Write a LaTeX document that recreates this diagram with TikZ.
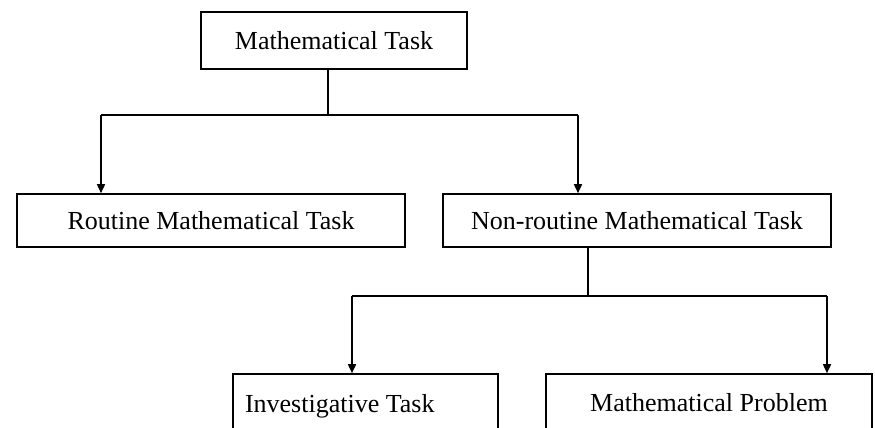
\documentclass[tikz,border=0pt]{standalone}
\usepackage{fontspec}
\setmainfont{Liberation Serif}
\usetikzlibrary{arrows.meta,calc,positioning}
\tikzset{
  task box/.style={draw,line width=1.6pt,inner sep=0pt,font=\fontsize{26}{30}\selectfont},
  tree line/.style={line width=1.6pt},
  tree arrow/.style={tree line,-{Triangle[length=9pt,width=8pt]}},
}

\begin{document}
\begin{tikzpicture}[x=1pt,y=-1pt]
  \useasboundingbox (0,0) rectangle (875,428);
  \node[task box,minimum width=266pt,minimum height=57pt] (task) at (334,40.5) {Mathematical Task};
  \node[task box,minimum width=388pt,minimum height=53pt] (routine) at (211,220.5) {Routine Mathematical Task};
  \node[task box,minimum width=388pt,minimum height=53pt] (nonroutine) at (637,220.5) {Non-routine Mathematical Task};
  \node[task box,minimum width=265pt,minimum height=58pt,text depth=0pt] (invest) at (365.5,403) {\makebox[241pt][l]{Investigative Task}};
  \node[task box,minimum width=326pt,minimum height=58pt] (problem) at (709,403) {Mathematical Problem};
  % first split
  \coordinate (j1) at (328,115);
  \coordinate (l1) at (101,115);
  \coordinate (r1) at (578,115);
  \draw[tree line] (task.south -| j1) -- (j1);
  \draw[tree line] (l1) -- (r1);
  \draw[tree arrow] (l1) -- (l1 |- routine.north);
  \draw[tree arrow] (r1) -- (r1 |- nonroutine.north);
  % second split
  \coordinate (j2) at (588,296);
  \coordinate (l2) at (352,296);
  \coordinate (r2) at (827,296);
  \draw[tree line] (nonroutine.south -| j2) -- (j2);
  \draw[tree line] (l2) -- (r2);
  \draw[tree arrow] (l2) -- (l2 |- invest.north);
  \draw[tree arrow] (r2) -- (r2 |- problem.north);
\end{tikzpicture}
\end{document}
